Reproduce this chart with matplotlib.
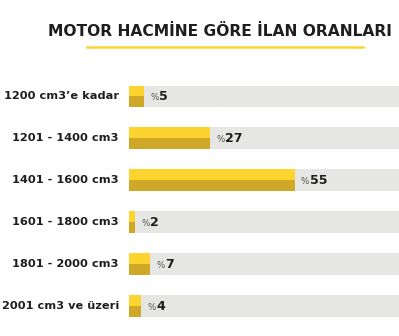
import matplotlib
matplotlib.use("Agg")
import matplotlib.pyplot as plt
from matplotlib.lines import Line2D

categories = ["1200 cm3\u2019e kadar", "1201 - 1400 cm3", "1401 - 1600 cm3",
              "1601 - 1800 cm3", "1801 - 2000 cm3", "2001 cm3 ve \u00fczeri"]
values = [5, 27, 55, 2, 7, 4]
title = "MOTOR HACM\u0130NE G\u00d6RE \u0130LAN ORANLARI"

YELLOW = "#FDD42F"
GOLD = "#CEA826"
GRAY = "#E6E6E4"
DARK = "#1E1E1E"

plt.rcParams['font.family'] = ['DejaVu Sans']

W, H = 399, 336
fig = plt.figure(figsize=(W / 100, H / 100), dpi=100)
fig.patch.set_facecolor("white")

ax = fig.add_axes([129 / W, 1 - 327 / H, 1 - 129 / W, (327 - 75.5) / H])
xmax = 89.5
n = len(categories)
h = 0.52
for i, (c, v) in enumerate(zip(categories, values)):
    ax.barh(i, xmax, height=h, color=GRAY, left=0, zorder=1)
    ax.barh(i - h / 4, v, height=h / 2, color=YELLOW, zorder=2)
    ax.barh(i + h / 4, v, height=h / 2, color=GOLD, zorder=2)
    ax.annotate("%", (v, i), xytext=(6, -1), textcoords="offset pixels",
                ha="left", va="center", fontsize=6.3, color="#555555", zorder=3)
    ax.annotate(str(v), (v, i), xytext=(15, 0), textcoords="offset pixels",
                ha="left", va="center", fontsize=9, fontweight="bold",
                color=DARK, zorder=3)
    ax.annotate(c, (0, i), xytext=(-10, 0), textcoords="offset pixels",
                ha="right", va="center", fontsize=8.2, fontweight="bold",
                color=DARK, annotation_clip=False)

ax.set_xlim(0, xmax)
ax.set_ylim(n - 0.5, -0.5)
ax.axis("off")

fig.text(220 / W, 1 - 31 / H, title, ha="center", va="center",
         fontsize=11.2, fontweight="bold", color=DARK)
fig.add_artist(Line2D([87 / W, 363 / W], [1 - 47 / H, 1 - 47 / H],
                      color=YELLOW, lw=1.8, transform=fig.transFigure))

fig.savefig("out.png", dpi=100)
